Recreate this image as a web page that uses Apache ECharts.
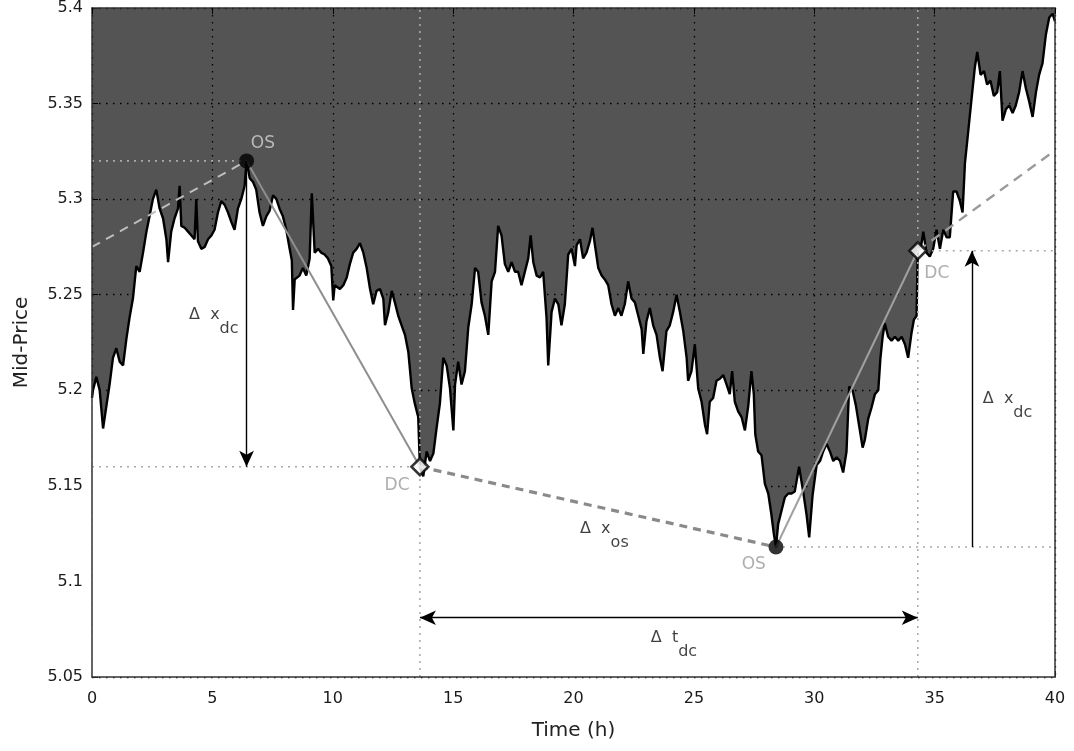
<!DOCTYPE html>
<html>
<head>
<meta charset="utf-8">
<script src="https://cdn.jsdelivr.net/npm/echarts@6/dist/echarts.min.js"></script>
<style>
  html, body { margin: 0; padding: 0; background: #ffffff; }
  #chart { width: 1074px; height: 751px; }
</style>
</head>
<body>
<div id="chart"></div>
<script>
// Mid-price path (hours, price)
const hours = [
  0.00, 0.04, 0.18, 0.32, 0.46, 0.60, 0.73, 0.87, 1.01, 1.15, 1.29, 1.43, 1.56, 1.70, 1.84, 1.98,
  2.12, 2.26, 2.39, 2.53, 2.67, 2.81, 2.95, 3.09, 3.16, 3.29, 3.43, 3.57, 3.64, 3.71, 3.85, 3.99,
  4.13, 4.26, 4.33, 4.40, 4.54, 4.68, 4.82, 4.96, 5.09, 5.23, 5.37, 5.51, 5.65, 5.79, 5.92, 6.06,
  6.20, 6.34, 6.42, 6.55, 6.69, 6.82, 6.96, 7.10, 7.24, 7.38, 7.52, 7.66, 7.79, 7.93, 8.07, 8.21,
  8.30, 8.35, 8.42, 8.48, 8.62, 8.76, 8.90, 9.04, 9.13, 9.25, 9.39, 9.52, 9.66, 9.80, 9.94, 10.02,
  10.08, 10.16, 10.30, 10.44, 10.58, 10.71, 10.85, 10.99, 11.13, 11.27, 11.41, 11.55, 11.68, 11.82, 11.96, 12.10,
  12.17, 12.31, 12.45, 12.58, 12.72, 12.86, 13.00, 13.14, 13.28, 13.41, 13.55, 13.62, 13.76, 13.90, 14.04, 14.18,
  14.31, 14.45, 14.59, 14.73, 14.87, 15.01, 15.08, 15.21, 15.35, 15.49, 15.63, 15.77, 15.91, 16.04, 16.18, 16.32,
  16.46, 16.60, 16.74, 16.87, 17.01, 17.15, 17.29, 17.43, 17.57, 17.70, 17.84, 17.98, 18.12, 18.22, 18.33, 18.47,
  18.61, 18.74, 18.88, 18.95, 19.09, 19.23, 19.37, 19.50, 19.64, 19.78, 19.92, 20.06, 20.13, 20.27, 20.40, 20.54,
  20.68, 20.79, 20.89, 21.03, 21.17, 21.30, 21.44, 21.58, 21.72, 21.86, 21.99, 22.13, 22.27, 22.41, 22.55, 22.69,
  22.83, 22.90, 23.03, 23.17, 23.31, 23.45, 23.59, 23.70, 23.86, 24.00, 24.14, 24.28, 24.42, 24.56, 24.70, 24.76,
  24.90, 25.04, 25.18, 25.32, 25.46, 25.55, 25.66, 25.80, 25.94, 26.08, 26.22, 26.36, 26.49, 26.59, 26.70, 26.84,
  26.98, 27.12, 27.26, 27.39, 27.49, 27.55, 27.67, 27.81, 27.95, 28.09, 28.22, 28.32, 28.41, 28.50, 28.64, 28.78,
  28.92, 29.06, 29.19, 29.37, 29.54, 29.68, 29.79, 29.93, 30.10, 30.24, 30.37, 30.51, 30.65, 30.79, 30.93, 31.07,
  31.20, 31.34, 31.45, 31.59, 31.73, 31.87, 32.01, 32.10, 32.24, 32.38, 32.52, 32.66, 32.75, 32.84, 32.93, 33.07,
  33.21, 33.35, 33.49, 33.63, 33.77, 33.90, 34.04, 34.14, 34.25, 34.30, 34.42, 34.53, 34.66, 34.80, 34.94, 35.08,
  35.22, 35.36, 35.50, 35.63, 35.77, 35.91, 36.05, 36.16, 36.26, 36.40, 36.53, 36.67, 36.77, 36.91, 37.05, 37.18,
  37.32, 37.46, 37.60, 37.71, 37.82, 37.96, 38.10, 38.24, 38.37, 38.51, 38.65, 38.79, 38.93, 39.07, 39.21, 39.34,
  39.48, 39.62, 39.76, 39.90, 40.00
];
const midPrice = [
  5.196, 5.200, 5.207, 5.200, 5.180, 5.192, 5.203, 5.217, 5.222, 5.215, 5.213, 5.227, 5.238, 5.248, 5.265, 5.262,
  5.272, 5.283, 5.291, 5.300, 5.305, 5.295, 5.290, 5.279, 5.267, 5.283, 5.290, 5.295, 5.307, 5.286, 5.285, 5.283,
  5.281, 5.279, 5.300, 5.278, 5.274, 5.275, 5.279, 5.281, 5.284, 5.293, 5.299, 5.297, 5.293, 5.288, 5.284, 5.295,
  5.300, 5.307, 5.320, 5.311, 5.309, 5.305, 5.293, 5.286, 5.291, 5.294, 5.302, 5.300, 5.295, 5.291, 5.284, 5.274,
  5.268, 5.242, 5.258, 5.257, 5.260, 5.264, 5.260, 5.269, 5.303, 5.272, 5.274, 5.272, 5.271, 5.269, 5.265, 5.247,
  5.255, 5.255, 5.253, 5.255, 5.259, 5.266, 5.272, 5.274, 5.277, 5.272, 5.264, 5.253, 5.245, 5.252, 5.253, 5.248,
  5.234, 5.241, 5.252, 5.246, 5.239, 5.234, 5.229, 5.220, 5.201, 5.193, 5.186, 5.160, 5.155, 5.168, 5.163, 5.167,
  5.180, 5.193, 5.217, 5.213, 5.201, 5.179, 5.203, 5.215, 5.203, 5.210, 5.233, 5.245, 5.264, 5.262, 5.246, 5.239,
  5.229, 5.257, 5.262, 5.286, 5.281, 5.266, 5.262, 5.267, 5.262, 5.262, 5.255, 5.262, 5.269, 5.281, 5.267, 5.260,
  5.259, 5.262, 5.238, 5.213, 5.241, 5.248, 5.245, 5.234, 5.245, 5.271, 5.274, 5.265, 5.276, 5.279, 5.269, 5.272,
  5.278, 5.285, 5.276, 5.264, 5.260, 5.258, 5.255, 5.245, 5.239, 5.243, 5.239, 5.245, 5.257, 5.248, 5.246, 5.239,
  5.232, 5.219, 5.236, 5.243, 5.234, 5.229, 5.217, 5.210, 5.231, 5.234, 5.241, 5.250, 5.241, 5.231, 5.217, 5.205,
  5.210, 5.224, 5.201, 5.194, 5.182, 5.177, 5.194, 5.196, 5.205, 5.206, 5.208, 5.203, 5.198, 5.210, 5.194, 5.189,
  5.186, 5.179, 5.192, 5.210, 5.198, 5.177, 5.168, 5.166, 5.151, 5.146, 5.135, 5.125, 5.118, 5.130, 5.137, 5.144,
  5.146, 5.146, 5.147, 5.160, 5.147, 5.135, 5.123, 5.145, 5.161, 5.163, 5.168, 5.172, 5.168, 5.163, 5.165, 5.163,
  5.157, 5.168, 5.202, 5.200, 5.192, 5.181, 5.170, 5.174, 5.185, 5.191, 5.198, 5.200, 5.217, 5.228, 5.235, 5.228,
  5.226, 5.228, 5.226, 5.228, 5.224, 5.217, 5.230, 5.237, 5.239, 5.273, 5.274, 5.283, 5.272, 5.270, 5.274, 5.284,
  5.274, 5.284, 5.280, 5.280, 5.304, 5.304, 5.299, 5.293, 5.319, 5.336, 5.352, 5.369, 5.377, 5.365, 5.367, 5.360,
  5.362, 5.354, 5.356, 5.367, 5.341, 5.347, 5.349, 5.345, 5.349, 5.356, 5.367, 5.358, 5.351, 5.343, 5.356, 5.365,
  5.371, 5.386, 5.395, 5.397, 5.393
];

// Axis ticks
const xTicks = [0, 5, 10, 15, 20, 25, 30, 35, 40];
const yTicks = [5.05, 5.1, 5.15, 5.2, 5.25, 5.3, 5.35, 5.4];

// Directional-change events: overshoot extremes and confirmation points
const osTimes = [6.42, 28.41];
const osPrices = [5.32, 5.118];
const dcTimes = [13.62, 34.3];
const dcPrices = [5.16, 5.273];
// Trend extension endpoints (before first OS, after last DC)
const trendInTime = 0, trendInPrice = 5.275;
const trendOutTime = 40, trendOutPrice = 5.3255;
// Measurement arrows
const dcArrowTimes = [6.42, 36.55];
const durationArrowPrice = 5.081;

const FONT = 'DejaVu Sans';
const xMin = xTicks[0], xMax = xTicks[xTicks.length - 1];
const yMin = yTicks[0], yMax = yTicks[yTicks.length - 1];

const pricePath = hours.map((h, i) => [h, midPrice[i]]);
const OS = osTimes.map((t, i) => [t, osPrices[i]]);
const DC = dcTimes.map((t, i) => [t, dcPrices[i]]);

function segment(points, style, z) {
  return {
    type: 'line', data: points, showSymbol: false, symbol: 'none',
    lineStyle: style, z: z, silent: true, animation: false
  };
}

const guideStyle = { color: '#a9a9a9', width: 1.6, type: [2, 5] };

const series = [
  // price path; white area from the bottom reveals the dark background above it
  {
    type: 'line', data: pricePath, showSymbol: false, symbol: 'none',
    lineStyle: { color: '#000', width: 2.4 },
    areaStyle: { color: '#ffffff', opacity: 1, origin: 'start' },
    z: 2, silent: true, animation: false
  },
  // dotted guides
  segment([[xMin, osPrices[0]], OS[0]], guideStyle, 3),
  segment([[xMin, dcPrices[0]], DC[0]], guideStyle, 3),
  segment([OS[1], [xMax, osPrices[1]]], guideStyle, 3),
  segment([DC[1], [xMax, dcPrices[1]]], guideStyle, 3),
  segment([[dcTimes[0], yMin], [dcTimes[0], yMax]], guideStyle, 3),
  segment([[dcTimes[1], yMin], [dcTimes[1], yMax]], guideStyle, 3),
  // trend lines
  segment([[trendInTime, trendInPrice], OS[0]], { color: '#bdbdbd', width: 2, type: [9, 7] }, 4),
  segment([OS[0], DC[0]], { color: '#8e8e8e', width: 2 }, 4),
  segment([DC[0], OS[1]], { color: '#8a8a8a', width: 3.2, type: [8, 6] }, 4),
  segment([OS[1], DC[1]], { color: '#a0a0a0', width: 2 }, 4),
  segment([DC[1], [trendOutTime, trendOutPrice]], { color: '#9a9a9a', width: 2.4, type: [10, 7] }, 4),
  // arrows
  {
    type: 'line', data: [], silent: true, z: 5,
    markLine: {
      silent: true, animation: false,
      symbolSize: [11, 16],
      lineStyle: { color: '#000', width: 1.4, type: 'solid' },
      label: { show: false },
      emphasis: { disabled: true },
      data: [
        [{ coord: [dcArrowTimes[0], osPrices[0]], symbol: 'none' },
         { coord: [dcArrowTimes[0], dcPrices[0]], symbol: 'arrow' }],
        [{ coord: [dcArrowTimes[1], osPrices[1]], symbol: 'none' },
         { coord: [dcArrowTimes[1], dcPrices[1]], symbol: 'arrow' }],
        [{ coord: [dcTimes[0], durationArrowPrice], symbol: 'arrow' },
         { coord: [dcTimes[1], durationArrowPrice], symbol: 'arrow' }]
      ]
    }
  },
  // event markers
  {
    type: 'scatter', data: OS, symbol: 'circle', symbolSize: 15,
    itemStyle: { color: '#000' }, z: 6, silent: true, animation: false
  },
  {
    type: 'scatter', data: DC, symbol: 'diamond', symbolSize: 17,
    itemStyle: { color: '#fff', borderColor: '#000', borderWidth: 2.5 }, z: 6, silent: true, animation: false
  },
  // event names
  {
    type: 'scatter', symbolSize: 0, z: 7, silent: true, animation: false,
    label: {
      show: true, position: 'inside', formatter: p => p.name,
      fontFamily: FONT, fontSize: 17, align: 'center', verticalAlign: 'middle'
    },
    data: [
      { name: 'OS', value: [7.10, 5.329], label: { color: '#d2d2d2' } },
      { name: 'DC', value: [12.67, 5.150], label: { color: '#9a9a9a' } },
      { name: 'OS', value: [27.49, 5.109], label: { color: '#9a9a9a' } },
      { name: 'DC', value: [35.09, 5.261], label: { color: '#9a9a9a' } }
    ]
  },
  // measurement names with subscripts
  {
    type: 'scatter', symbolSize: 0, z: 7, silent: true, animation: false,
    label: {
      show: true, position: 'inside', formatter: p => p.name,
      align: 'left', verticalAlign: 'middle',
      rich: {
        a: { fontFamily: FONT, fontSize: 16, color: '#111', lineHeight: 10, verticalAlign: 'top' },
        s: { fontFamily: FONT, fontSize: 16, color: '#111', lineHeight: 30, verticalAlign: 'bottom' }
      }
    },
    data: [
      { name: '{a|Δ  x}{s|dc}', value: [4.03, 5.2358] },
      { name: '{a|Δ  x}{s|os}', value: [20.27, 5.1236] },
      { name: '{a|Δ  t}{s|dc}', value: [23.21, 5.0668] },
      { name: '{a|Δ  x}{s|dc}', value: [37.0, 5.1918] }
    ]
  }
];

const tickFmt = v => String(+v.toFixed(2));
const boxLine = { show: true, onZero: false, lineStyle: { color: '#333', width: 1.5 } };

const option = {
  animation: false,
  backgroundColor: '#ffffff',
  grid: {
    left: 92, right: 19, top: 5, bottom: 74,
    show: true, backgroundColor: '#545454', borderWidth: 0
  },
  xAxis: [
    {
      type: 'value', min: xMin, max: xMax, interval: 5, position: 'bottom', z: 0,
      name: 'Time (h)', nameLocation: 'middle', nameGap: 44,
      nameTextStyle: { fontFamily: FONT, fontSize: 20, color: '#222' },
      axisLine: { show: false, onZero: false },
      axisTick: { show: true, inside: true, length: 6, lineStyle: { color: '#000' } },
      axisLabel: { fontFamily: FONT, fontSize: 16, color: '#1a1a1a', margin: 14, formatter: tickFmt },
      splitLine: { show: true, lineStyle: { color: '#000', width: 1.3, type: [1.5, 5.5] } }
    },
    {
      type: 'value', min: xMin, max: xMax, interval: 5, position: 'top', z: 5,
      axisLine: boxLine,
      axisTick: { show: true, inside: true, length: 6, lineStyle: { color: '#000' } },
      axisLabel: { show: false }, splitLine: { show: false }
    },
    {
      type: 'value', min: xMin, max: xMax, interval: 5, position: 'bottom', z: 5,
      axisLine: boxLine, axisTick: { show: false }, axisLabel: { show: false }, splitLine: { show: false }
    }
  ],
  yAxis: [
    {
      type: 'value', min: yMin, max: yMax, interval: 0.05, position: 'left', z: 0,
      name: 'Mid-Price', nameLocation: 'middle', nameGap: 60,
      nameTextStyle: { fontFamily: FONT, fontSize: 20, color: '#222' },
      axisLine: { show: false, onZero: false },
      axisTick: { show: true, inside: true, length: 6, lineStyle: { color: '#000' } },
      axisLabel: { fontFamily: FONT, fontSize: 16, color: '#1a1a1a', margin: 9, formatter: tickFmt },
      splitLine: { show: true, lineStyle: { color: '#000', width: 1.3, type: [1.5, 5.5] } }
    },
    {
      type: 'value', min: yMin, max: yMax, interval: 0.05, position: 'right', z: 5,
      axisLine: boxLine,
      axisTick: { show: false },
      axisLabel: { show: false }, splitLine: { show: false }
    },
    {
      type: 'value', min: yMin, max: yMax, interval: 0.05, position: 'left', z: 5,
      axisLine: boxLine, axisTick: { show: false }, axisLabel: { show: false }, splitLine: { show: false }
    }
  ],
  series: series
};

const chart = echarts.init(document.getElementById('chart'), null, { renderer: 'canvas' });
chart.setOption(option);
</script>
</body>
</html>
